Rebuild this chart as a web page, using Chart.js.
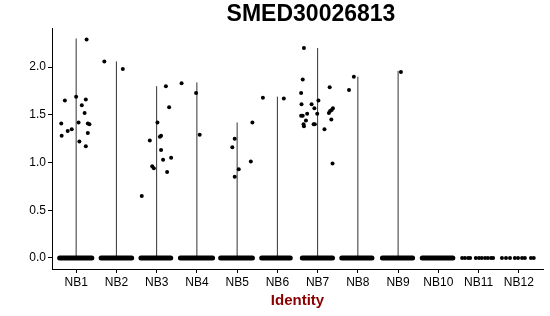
<!DOCTYPE html>
<html>
<head>
<meta charset="utf-8">
<script src="https://cdn.jsdelivr.net/npm/chart.js@4"></script>
<style>
  html, body { margin: 0; padding: 0; background: #fff; }
  #wrap { width: 550px; height: 316px; }
</style>
</head>
<body>
<div id="wrap"><canvas id="vln"></canvas></div>
<script>
const identities = ["NB1", "NB2", "NB3", "NB4", "NB5", "NB6", "NB7", "NB8", "NB9", "NB10", "NB11", "NB12"];
const yTicks = [0, 0.5, 1, 1.5, 2];

// top of each violin (all of them start at 0); null = every cell is 0
const violinMax = [2.30, 2.06, 1.80, 1.84, 1.42, 1.69, 2.20, 1.90, 1.96, null, null, null];

// dense bands of zero-expression cells, jitter offset from the group centre
const zeroLo = [-0.41, -0.38, -0.39, -0.41, -0.41, -0.39, -0.38, -0.40, -0.39, -0.40, null, null];
const zeroHi = [0.39, 0.38, 0.35, 0.39, 0.38, 0.32, 0.37, 0.35, 0.36, 0.36, null, null];

// the sparse groups, single zero cells
const zeroNB11 = [-0.41, -0.34, -0.26, -0.21, -0.07, 0.01, 0.08, 0.16, 0.23, 0.31, 0.36];
const zeroNB12 = [-0.42, -0.32, -0.22, -0.10, -0.02, 0.08, 0.15, 0.30, 0.37];

// expressing cells: [jitter offset, value]
const exprNB1 = [[-0.37, 1.41], [-0.28, 1.65], [-0.36, 1.28], [-0.21, 1.33], [-0.11, 1.35], [0.00, 1.69],
  [0.06, 1.42], [0.08, 1.22], [0.14, 1.60], [0.21, 1.52], [0.24, 1.66], [0.26, 2.29], [0.24, 1.17],
  [0.29, 1.41], [0.29, 1.31], [0.33, 1.40]];
const exprNB2 = [[-0.30, 2.06], [0.16, 1.98]];
const exprNB3 = [[-0.37, 0.65], [-0.17, 1.23], [-0.11, 0.96], [-0.07, 0.94], [0.02, 1.42], [0.08, 1.27],
  [0.11, 1.28], [0.11, 1.13], [0.16, 1.03], [0.23, 1.80], [0.26, 0.90], [0.31, 1.58], [0.36, 1.05]];
const exprNB4 = [[-0.38, 1.83], [-0.02, 1.73], [0.07, 1.29]];
const exprNB5 = [[-0.12, 1.16], [-0.06, 1.25], [-0.06, 0.85], [0.04, 0.93], [0.34, 1.01], [0.38, 1.42]];
const exprNB6 = [[-0.36, 1.68], [0.16, 1.67]];
const exprNB7 = [[-0.34, 2.20], [-0.37, 1.87], [-0.41, 1.73], [-0.40, 1.61], [-0.41, 1.49], [-0.37, 1.49],
  [-0.35, 1.40], [-0.34, 1.38], [-0.29, 1.44], [-0.26, 1.51], [-0.15, 1.61], [-0.08, 1.57], [-0.10, 1.40],
  [-0.07, 1.40], [-0.01, 1.51], [0.02, 1.65], [0.17, 1.35], [0.30, 1.79], [0.28, 1.52], [0.31, 1.54],
  [0.35, 1.55], [0.38, 1.57], [0.34, 1.45], [0.37, 0.99]];
const exprNB8 = [[-0.22, 1.76], [-0.10, 1.90]];
const exprNB9 = [[0.07, 1.95]];
const exprByGroup = [exprNB1, exprNB2, exprNB3, exprNB4, exprNB5, exprNB6, exprNB7, exprNB8, exprNB9, [], [], []];

const FONT = "'Liberation Sans', Arial, sans-serif";

// build datasets from the arrays above (x = group index + jitter)
const violinPts = [];
violinMax.forEach((m, i) => {
    if (m === null) return;
    violinPts.push({ x: i + 1, y: 0 }, { x: i + 1, y: m }, { x: i + 1, y: null });
});

const bandPts = [];
zeroLo.forEach((lo, i) => {
    if (lo === null) return;
    bandPts.push({ x: i + 1 + lo, y: 0 }, { x: i + 1 + zeroHi[i], y: 0 }, { x: i + 1, y: null });
});

const cellPts = [];
zeroNB11.forEach(o => cellPts.push({ x: 11 + o, y: 0 }));
zeroNB12.forEach(o => cellPts.push({ x: 12 + o, y: 0 }));
exprByGroup.forEach((list, i) => list.forEach(p => cellPts.push({ x: i + 1 + p[0], y: p[1] })));

const plotTitle = {
    id: "plotTitle",
    afterDraw(chart) {
        const ctx = chart.ctx;
        ctx.save();
        ctx.font = "bold 23px " + FONT;
        ctx.fillStyle = "#000";
        ctx.textAlign = "center";
        ctx.textBaseline = "middle";
        ctx.fillText("SMED30026813", 311, 15);
        ctx.restore();
    }
};

new Chart(document.getElementById("vln"), {
    type: "scatter",
    data: {
        datasets: [
            {
                type: "line",
                data: violinPts,
                borderColor: "#333",
                borderWidth: 1,
                pointRadius: 0,
                spanGaps: false,
                order: 3
            },
            {
                type: "line",
                data: bandPts,
                borderColor: "#000",
                borderWidth: 5,
                borderCapStyle: "round",
                pointRadius: 0,
                spanGaps: false,
                order: 2
            },
            {
                data: cellPts,
                backgroundColor: "#000",
                borderWidth: 0,
                pointRadius: 2,
                order: 1
            }
        ]
    },
    options: {
        responsive: true,
        maintainAspectRatio: false,
        animation: false,
        layout: {
            padding: { top: 28, right: 7, left: 0, bottom: 0 }
        },
        plugins: {
            legend: { display: false },
            tooltip: { enabled: false }
        },
        scales: {
            x: {
                type: "linear",
                min: 0.4,
                max: 12.6,
                afterBuildTicks: axis => {
                    axis.ticks = identities.map((_, i) => ({ value: i + 1 }));
                },
                afterFit: axis => { axis.height = 47; },
                ticks: {
                    autoSkip: false,
                    maxRotation: 0,
                    padding: 2,
                    color: "#000",
                    font: { family: FONT, size: 12 },
                    callback: v => identities[v - 1]
                },
                grid: {
                    drawOnChartArea: false,
                    drawTicks: true,
                    tickLength: 4,
                    color: "#000"
                },
                border: { display: true, color: "#000", width: 1 },
                title: {
                    display: true,
                    text: "Identity",
                    color: "#8b0000",
                    font: { family: FONT, size: 15, weight: "bold" },
                    padding: { top: 0, bottom: 6 }
                }
            },
            y: {
                min: -0.116,
                max: 2.41,
                afterBuildTicks: axis => {
                    axis.ticks = yTicks.map(v => ({ value: v }));
                },
                afterFit: axis => { axis.width = 52; },
                ticks: {
                    padding: 2,
                    color: "#000",
                    font: { family: FONT, size: 12 },
                    callback: v => v.toFixed(1)
                },
                grid: {
                    drawOnChartArea: false,
                    drawTicks: true,
                    tickLength: 4,
                    color: "#000"
                },
                border: { display: true, color: "#000", width: 1 }
            }
        }
    },
    plugins: [plotTitle]
});
</script>
</body>
</html>
